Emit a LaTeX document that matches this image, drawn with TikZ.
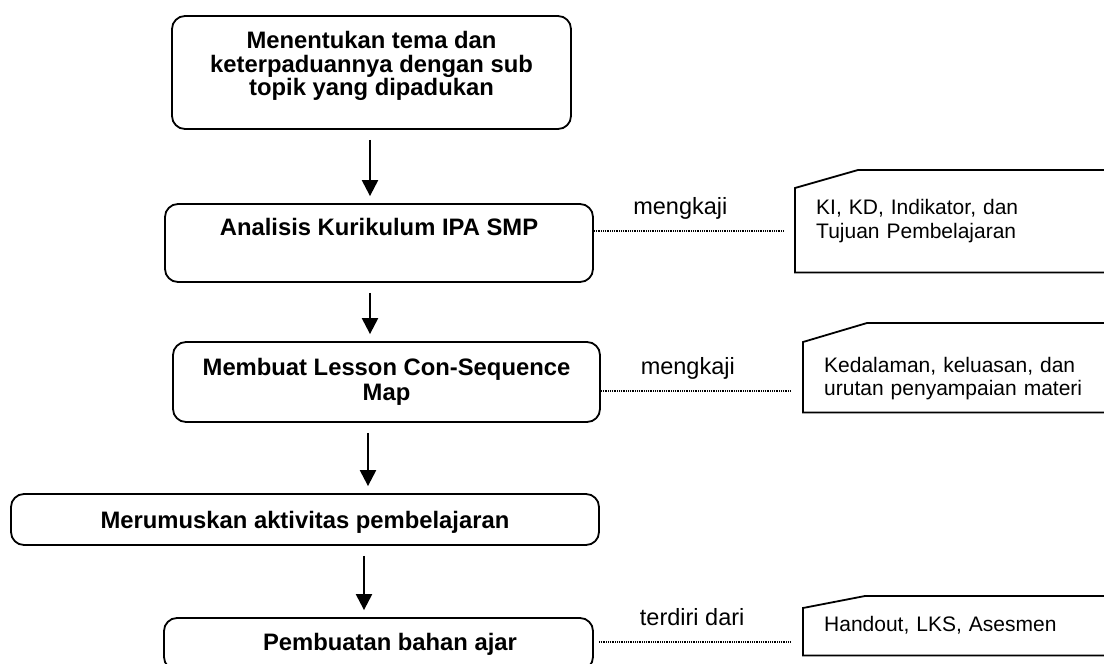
\documentclass[tikz,border=0pt]{standalone}
\usepackage{fontspec}
\setmainfont{Liberation Sans}
\usetikzlibrary{arrows.meta}
% outline of a note with its top left corner cut off
\newcommand{\notecut}[3]{%
  \draw[noteframe] (#1.south east) -- (#1.south west) -- ([yshift=-#3]#1.north west)
    -- ([xshift=#2]#1.north west) -- (#1.north east) -- cycle;}

\begin{document}
\begin{tikzpicture}[
  x=1pt, y={(0,-1pt)},
  stepbox/.style={draw, line width=1.8pt, rounded corners=13pt, align=center, font=\bfseries\fontsize{23.8}{23.5}\selectfont},
  notebox/.style={anchor=north west, inner xsep=21pt, text width=290pt, align=left, font=\fontsize{21}{23.5}\selectfont},
  noteframe/.style={line width=1.8pt, line join=miter},
  arrow/.style={-{Triangle[length=16pt,width=16pt]}, line width=2.2pt, shorten <=10pt, shorten >=7pt},
  link/.style={line width=1.4pt, dash pattern=on 1pt off 0.8pt, shorten >=12pt},
  tag/.style={font=\fontsize{23.5}{24}\selectfont, inner sep=0pt, text depth=5pt, above=11pt, pos=0.43}
]
\useasboundingbox (0,0) rectangle (1104,664);

% main steps
\node[stepbox, minimum width=399pt, minimum height=113pt, text depth=18pt] (theme) at (371.5,72.5) {Menentukan tema dan\\keterpaduannya dengan sub\\topik yang dipadukan};
\node[stepbox, minimum width=428pt, minimum height=78pt, text depth=33pt] (analisis) at (379,243) {Analisis Kurikulum IPA SMP};
\node[stepbox, minimum width=427pt, minimum height=80pt] (lesson) at (386.5,382) {Membuat Lesson Con-Sequence\\[1.5pt]Map};
\node[stepbox, minimum width=588pt, minimum height=51pt, text depth=0pt] (aktivitas) at (305,519.5) {Merumuskan aktivitas pembelajaran};
\node[stepbox, minimum width=429pt, minimum height=52pt] (bahan) at (378.5,644) {\hspace*{23pt}Pembuatan bahan ajar};

% notes on the right
\node[notebox, minimum height=102pt] (kikd) at (795,170) {KI, KD, Indikator, dan\\Tujuan Pembelajaran};
\notecut{kikd}{63pt}{18pt}
\node[notebox, minimum height=89pt, text height=37pt] (materi) at (803,323) {Kedalaman, keluasan, dan\\urutan penyampaian materi};
\notecut{materi}{64pt}{19pt}
\node[notebox, minimum height=59pt] (lks) at (803,596) {Handout, LKS, Asesmen};
\notecut{lks}{62pt}{12pt}

% flow
\draw[arrow] (theme.south -| 370,0) -- (analisis.north -| 370,0);
\draw[arrow] (analisis.south -| 370,0) -- (lesson.north -| 370,0);
\draw[arrow] (lesson.south -| 368,0) -- (aktivitas.north -| 368,0);
\draw[arrow] (aktivitas.south -| 364,0) -- (bahan.north -| 364,0);

% links to the notes
\draw[link] (analisis.east |- 0,231) -- node[tag] {mengkaji} (kikd.west |- 0,231);
\draw[link] (lesson.east |- 0,391) -- node[tag] {mengkaji} (materi.west |- 0,391);
\draw[link, shorten <=5pt] (bahan.east |- 0,642) -- node[tag, pos=0.47] {terdiri dari} (lks.west |- 0,642);
\end{tikzpicture}
\end{document}
